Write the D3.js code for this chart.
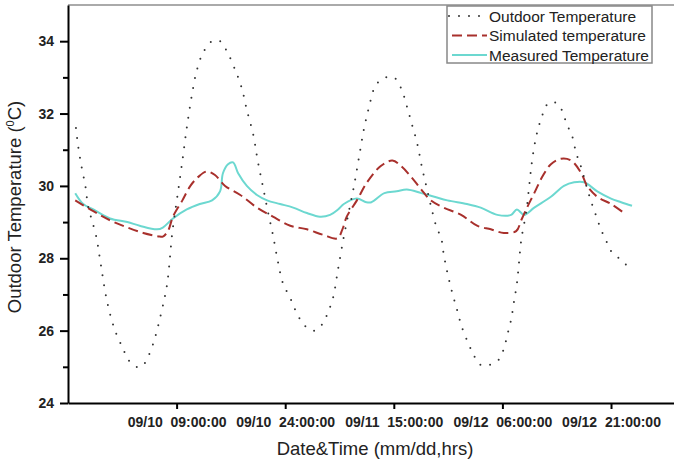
<!DOCTYPE html>
<html>
<head>
<meta charset="utf-8">
<script src="https://cdn.jsdelivr.net/npm/d3@7"></script>
<style>
  html, body { margin: 0; padding: 0; background: #fff; }
  svg { display: block; font-family: "Liberation Sans", Arial, sans-serif; }
</style>
</head>
<body>
<svg id="chart" width="674" height="461"></svg>
<script>
// ---- data (hours elapsed since 09/09 18:00, temperature °C) ----
const outdoorHours = [1.1,1.4,1.9,2.4,2.8,3.3,3.9,4.4,5.4,6.5,7.6,8.3,9.4,10.1,10.6,11.7,13.0,13.7,14.4,15.1,15.8,16.4,17.1,17.8,18.7,19.9,21.0,22.0,23.1,24.0,24.7,25.6,26.2,26.9,27.6,28.3,29.0,29.7,30.7,31.8,32.9,34.1,35.2,35.9,36.6,37.3,38.1,38.8,39.5,40.2,40.9,41.6,42.3,43.0,43.9,45.0,46.0,46.8,47.5,48.2,48.9,49.6,50.3,51.0,51.5,51.9,52.4,53.0,53.7,54.4,55.4,56.1,57.0,58.2,59.5,60.2,60.7,61.2,61.6,62.0,62.3,62.6,63.3,63.7,64.1,64.6,65.1,65.8,66.4,67.4,68.2,68.9,69.6,70.2,70.9,71.6,72.2,72.9,73.6,74.3,75.0,76.1,77.2];
const outdoorTemp  = [31.6,31.1,30.5,30.0,29.4,29.05,28.6,28.0,26.8,26.0,25.5,25.2,25.0,25.0,25.1,25.6,26.6,27.3,28.7,29.7,30.7,31.6,32.5,33.2,33.7,34.0,34.0,33.7,33.2,32.7,32.1,31.4,30.7,30.0,29.3,28.65,27.9,27.3,26.9,26.4,26.1,26.0,26.2,26.5,26.9,27.7,28.6,29.3,30.0,30.8,31.6,32.2,32.7,32.9,33.0,33.0,32.7,32.2,31.7,31.2,30.5,29.9,29.3,28.8,28.6,28.1,27.6,27.1,26.6,26.1,25.6,25.3,25.05,25.05,25.2,25.5,25.9,26.3,26.8,27.3,27.9,28.5,29.3,30.0,30.7,31.3,31.7,32.1,32.3,32.3,32.1,31.7,31.4,30.9,30.5,30.0,29.6,29.2,28.8,28.5,28.2,28.0,27.8];

const simHours = [1.0,3.5,5.8,8.2,10.4,12.7,13.1,13.8,14.5,15.8,16.9,18.0,19.2,20.3,21.7,23.8,26.1,28.3,30.7,33.0,35.2,37.2,37.9,38.5,39.9,41.3,43.2,44.8,46.0,47.4,48.8,50.1,51.9,54.3,56.5,58.4,60.2,61.9,62.6,63.4,64.4,65.5,66.7,68.1,69.5,70.9,71.7,73.1,75.0,76.8];
const simTemp  = [29.6,29.3,29.05,28.85,28.7,28.6,28.6,28.75,29.15,29.6,30.0,30.25,30.4,30.3,30.0,29.75,29.4,29.15,28.9,28.8,28.65,28.55,28.8,29.15,29.6,30.1,30.55,30.7,30.55,30.25,29.9,29.6,29.4,29.2,28.9,28.8,28.7,28.75,29.05,29.4,29.8,30.25,30.6,30.75,30.7,30.35,30.0,29.7,29.5,29.25];

const measHours = [1.0,2.1,3.5,5.8,8.2,9.9,12.3,13.1,14.5,16.4,18.2,19.9,21.0,21.4,22.1,22.8,23.5,24.7,26.1,27.5,29.3,31.1,33.0,34.8,36.2,37.3,38.1,39.9,41.2,41.9,43.7,45.4,46.8,48.8,50.6,52.4,55.1,57.0,59.3,61.2,62.0,63.0,64.4,66.7,68.5,69.9,71.3,73.1,75.0,76.4,77.9];
const measTemp  = [29.8,29.5,29.35,29.1,29.0,28.9,28.8,28.85,29.1,29.35,29.5,29.6,29.85,30.35,30.6,30.65,30.35,30.0,29.75,29.6,29.5,29.4,29.25,29.15,29.2,29.35,29.5,29.65,29.55,29.55,29.8,29.85,29.9,29.8,29.7,29.6,29.5,29.4,29.2,29.2,29.35,29.2,29.4,29.7,30.0,30.1,30.1,29.85,29.65,29.55,29.45];

const xTickHours  = [15, 30, 45, 60, 75];
const xTickLabels = ["09/10  09:00:00", "09/10  24:00:00", "09/11  15:00:00", "09/12  06:00:00", "09/12  21:00:00"];
const yMajorTicks = [24, 26, 28, 30, 32, 34];
const yMinorTicks = [25, 27, 29, 31, 33];
const seriesNames = ["Outdoor Temperature", "Simulated temperature", "Measured Temperature"];

// ---- layout ----
const svg = d3.select("#chart");
const mLeft = 68, mRight = 674, mTop = 5, mBottom = 403;

const x = d3.scaleLinear().domain([0, 83.7]).range([mLeft, mRight]);
const y = d3.scaleLinear().domain([24, 35]).range([mBottom, mTop]);

const zip = (a, b) => a.map((h, i) => [h, b[i]]);
const line = d3.line().x(d => x(d[0])).y(d => y(d[1])).curve(d3.curveCatmullRom.alpha(0.5));

const styles = [
  { color: "#333", width: 2, dash: "0,10", cap: "round" },
  { color: "#a8302c", width: 2, dash: "10,5", cap: "butt" },
  { color: "#6cd8d0", width: 2, dash: null, cap: "butt" }
];
const series = [zip(outdoorHours, outdoorTemp), zip(simHours, simTemp), zip(measHours, measTemp)];

// top frame line
svg.append("line").attr("x1", mLeft).attr("x2", mRight).attr("y1", mTop).attr("y2", mTop)
  .attr("stroke", "#aaa").attr("stroke-width", 2);

// lines: draw measured, then simulated, then outdoor
[2, 1, 0].forEach(i => {
  const s = styles[i];
  svg.append("path").datum(series[i])
    .attr("fill", "none").attr("stroke", s.color).attr("stroke-width", s.width)
    .attr("stroke-dasharray", s.dash).attr("stroke-linecap", s.cap)
    .attr("d", line);
});

// x axis
const xAxis = d3.axisBottom(x).tickValues(xTickHours)
  .tickFormat((d, i) => xTickLabels[i]).tickSize(6).tickSizeOuter(0);
const gx = svg.append("g").attr("transform", `translate(0,${mBottom})`).call(xAxis);
gx.select(".domain").attr("stroke", "#000").attr("stroke-width", 2);
gx.selectAll(".tick line").attr("stroke", "#000").attr("stroke-width", 2);
gx.selectAll(".tick text").attr("font-size", 14).attr("font-weight", "bold")
  .attr("fill", "#222").attr("y", 24).attr("dy", 0).style("white-space", "pre")
  .attr("font-family", "'Liberation Sans', Arial, sans-serif");

// y axis (major)
const yAxis = d3.axisLeft(y).tickValues(yMajorTicks).tickSize(8).tickSizeOuter(0);
const gy = svg.append("g").attr("transform", `translate(${mLeft},0)`).call(yAxis);
gy.select(".domain").attr("stroke", "#000").attr("stroke-width", 2);
gy.selectAll(".tick line").attr("stroke", "#000").attr("stroke-width", 2);
gy.selectAll(".tick text").attr("font-size", 14).attr("font-weight", "bold")
  .attr("fill", "#222").attr("x", -14)
  .attr("font-family", "'Liberation Sans', Arial, sans-serif");
// y minor ticks
const yMinor = d3.axisLeft(y).tickValues(yMinorTicks).tickSize(5).tickFormat("");
const gym = svg.append("g").attr("transform", `translate(${mLeft},0)`).call(yMinor);
gym.select(".domain").remove();
gym.selectAll(".tick line").attr("stroke", "#000").attr("stroke-width", 2);

// axis titles
svg.append("text").attr("x", 375).attr("y", 455).attr("text-anchor", "middle")
  .attr("font-size", 18.5).attr("fill", "#222").text("Date&Time (mm/dd,hrs)");
const yt = svg.append("text").attr("transform", "translate(21,207) rotate(-90)")
  .attr("text-anchor", "middle").attr("font-size", 18.5).attr("fill", "#222");
yt.append("tspan").text("Outdoor Temperature (");
yt.append("tspan").attr("font-size", 11).attr("dy", -7).text("0");
yt.append("tspan").attr("dy", 7).text("C)");

// legend
const lg = svg.append("g");
lg.append("rect").attr("x", 447).attr("y", 6).attr("width", 205).attr("height", 57)
  .attr("fill", "#fff").attr("stroke", "#888").attr("stroke-width", 1.5);
seriesNames.forEach((name, i) => {
  const yy = 16 + i * 19.5;
  const s = styles[i];
  lg.append("line").attr("x1", i === 0 ? 449 : 452).attr("x2", 487).attr("y1", yy).attr("y2", yy)
    .attr("stroke", s.color).attr("stroke-width", s.width)
    .attr("stroke-dasharray", s.dash).attr("stroke-linecap", s.cap);
  lg.append("text").attr("x", 489).attr("y", yy + 5.5).attr("font-size", 15.5)
    .attr("fill", "#222").text(name);
});
</script>
</body>
</html>
